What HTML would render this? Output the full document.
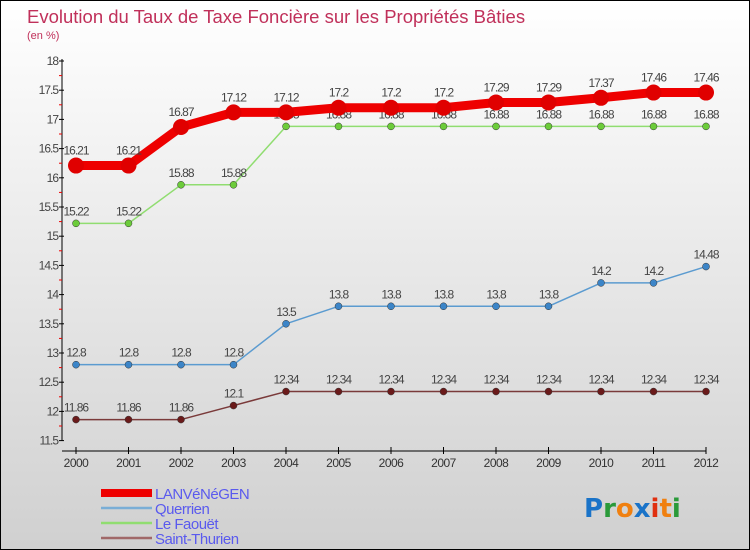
<!DOCTYPE html>
<html><head><meta charset="utf-8"><style>
body{margin:0}
#c{position:relative;width:748px;height:548px;border:1px solid #000;background:linear-gradient(#fff,#d0d0d0);font-family:"Liberation Sans",sans-serif;overflow:hidden}
</style></head><body>
<div id="c">
<svg id="s" width="748" height="548" style="position:absolute;left:0;top:0">
<text x="26" y="22" font-size="18.5" fill="#c0305a">Evolution du Taux de Taxe Foncière sur les Propriétés Bâties</text>
<text x="26" y="38" font-size="11" fill="#c0305a">(en %)</text>
<g id="axes"></g><g id="series"></g><g id="legend"></g>
<text x="583" y="516" font-size="26" font-weight="bold" font-family="'DejaVu Sans',sans-serif"><tspan fill="#1a73c8">P</tspan><tspan fill="#2a9a3a">r</tspan><tspan fill="#f08010">o</tspan><tspan fill="#1a73c8">x</tspan><tspan fill="#e03010">i</tspan><tspan fill="#f08010">t</tspan><tspan fill="#2a9a3a">i</tspan></text>
</svg>
</div>
<script>
const years=[2000,2001,2002,2003,2004,2005,2006,2007,2008,2009,2010,2011,2012];
const lanvenegen=[16.21,16.21,16.87,17.12,17.12,17.2,17.2,17.2,17.29,17.29,17.37,17.46,17.46];
const querrien=[12.8,12.8,12.8,12.8,13.5,13.8,13.8,13.8,13.8,13.8,14.2,14.2,14.48];
const lefaouet=[15.22,15.22,15.88,15.88,16.88,16.88,16.88,16.88,16.88,16.88,16.88,16.88,16.88];
const saintthurien=[11.86,11.86,11.86,12.1,12.34,12.34,12.34,12.34,12.34,12.34,12.34,12.34,12.34];
const yTicks=[11.5,12,12.5,13,13.5,14,14.5,15,15.5,16,16.5,17,17.5,18];
const seriesNames=["LANVéNéGEN","Querrien","Le Faouët","Saint-Thurien"];
const NS="http://www.w3.org/2000/svg";
const xS=i=>75+i*52.5;
const yS=v=>60+(18-v)*58.4;
function mk(p,t,a){const e=document.createElementNS(NS,t);for(const k in a)e.setAttribute(k,a[k]);p.appendChild(e);return e;}
const ax=document.getElementById('axes');
let l=mk(ax,'line',{x1:61,y1:58,x2:61,y2:yS(11.5),stroke:'#000'});

l=mk(ax,'line',{x1:61,y1:450,x2:xS(12),y2:450,stroke:'#000'});

yTicks.forEach((v,i)=>{const y=yS(v);mk(ax,'line',{x1:58,y1:y,x2:63,y2:y,stroke:'#000'});
if(i<yTicks.length-1)mk(ax,'line',{x1:58,y1:yS(v+0.25),x2:61,y2:yS(v+0.25),stroke:'#e00'});
const t=mk(ax,'text',{x:57,y:y+4,'font-size':12,'text-anchor':'end',fill:'#444','letter-spacing':'-1'});t.textContent=v;
});
years.forEach((yr,i)=>{const x=xS(i);mk(ax,'line',{x1:x,y1:446,x2:x,y2:453,stroke:'#000'});
const t=mk(ax,'text',{x:x,y:466,'font-size':12,'text-anchor':'middle',fill:'#333','letter-spacing':'-0.5'});t.textContent=yr;
});
const sg=document.getElementById('series');
const specs=[[querrien,'#5b9bd0','#3c85c8',1.5,3.5,'querrien'],[lefaouet,'#90dd70','#6ccc3a',1.5,3.5,'le-faouet'],[saintthurien,'#7a3a3a','#6a1a1a',1.5,3.5,'saint-thurien'],[lanvenegen,'#ee0000','#e00000',9,8,'lanvenegen']];
specs.forEach(([d,c,fc,w,r,n])=>{
const p=mk(sg,'polyline',{points:d.map((v,i)=>xS(i)+','+yS(v)).join(' '),fill:'none',stroke:c,'stroke-width':w,'stroke-linejoin':'round'});

d.forEach((v,i)=>{const ci=mk(sg,'circle',{cx:xS(i),cy:yS(v),r:r,fill:fc,stroke:n=='lanvenegen'?'none':'#333','stroke-width':0.5});

const t=mk(sg,'text',{x:xS(i),y:yS(v)-(n=='lanvenegen'?11:8),'font-size':12,'text-anchor':'middle',fill:'#444','letter-spacing':'-1'});t.textContent=v;
});});
const lg=document.getElementById('legend');
const lc=['#ee0000','#7aaed6','#90dd70','#a06868'],lw=[8,2.5,2.5,2.5];
seriesNames.forEach((n,i)=>{const y=492+i*15;
const s=mk(lg,'line',{x1:100,y1:y,x2:151,y2:y,stroke:lc[i],'stroke-width':lw[i]});

const t=mk(lg,'text',{x:154,y:y+6,'font-size':15,fill:'#5a5aee','letter-spacing':'-0.5'});t.textContent=n;
});
</script>
</body></html>
